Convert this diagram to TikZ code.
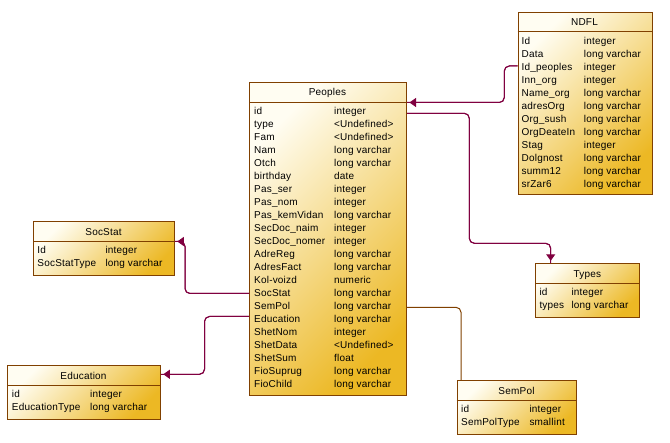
\documentclass[tikz,border=0pt]{standalone}
\usepackage{fontspec}
\setmainfont{Liberation Sans}
\usetikzlibrary{arrows.meta}
\definecolor{erborder}{RGB}{128,64,0}
\definecolor{erlink}{RGB}{128,0,64}
\definecolor{ergold}{RGB}{236,184,36}
\definecolor{ercream}{RGB}{255,253,242}
\newcommand\erRows[5]{%
  \foreach \n/\t [count=\i from 0] in {#4} {%
    \node[cell] (#5n\i) at (#1,#3+13*\i) {\n};
    \node[cell] (#5t\i) at (#2,#3+13*\i) {\t};
  }}
\tikzset{
  tbl/.style={draw=erborder, line width=1pt, anchor=north west, inner sep=0,
    shading=axis, top color=ercream, bottom color=ergold, shading angle=45},
  sep/.style={draw=erborder, line width=1pt},
  cell/.style={anchor=base west, inner sep=0, font=\fontsize{10}{12}\selectfont\addfontfeatures{LetterSpace=2}},
  hdr/.style={anchor=base, inner sep=0, font=\fontsize{10}{12}\selectfont\addfontfeatures{LetterSpace=2}},
  conn/.style={draw=erlink, line width=1pt, rounded corners=5pt},
  plainconn/.style={draw=erborder, line width=1pt, rounded corners=5pt},
  reftip/.style={postaction={draw=erlink, line width=1pt, rounded corners=5pt,
    -{Triangle[length=6.5pt,width=9pt]}, shorten >=2.5pt}},
}
\begin{document}
\begin{tikzpicture}[x=1pt,y=-1pt]
\useasboundingbox (0,0) rectangle (670,443);

% Peoples
\node[tbl, minimum width=157, minimum height=313] (peoples) at (249,82) {};
\draw[sep] (peoples.west |- 0,102.5) -- (peoples.east |- 0,102.5);
\node[hdr] (peoplesH) at (327.5,95.6) {Peoples};
\erRows{254}{334}{114.1}{id/integer, type/<Undefined>, Fam/<Undefined>, Nam/long varchar, Otch/long varchar, birthday/date, Pas\_ser/integer, Pas\_nom/integer, Pas\_kemVidan/long varchar, SecDoc\_naim/integer, SecDoc\_nomer/integer, AdreReg/long varchar, AdresFact/long varchar, Kol-voizd/numeric, SocStat/long varchar, SemPol/long varchar, Education/long varchar, ShetNom/integer, ShetData/<Undefined>, ShetSum/float, FioSuprug/long varchar, FioChild/long varchar}{p}

% NDFL
\node[tbl, minimum width=134, minimum height=182] (ndfl) at (517.5,12) {};
\draw[sep] (ndfl.west |- 0,31.8) -- (ndfl.east |- 0,31.8);
\node[hdr] (ndflH) at (584.5,25.8) {NDFL};
\erRows{521.5}{583.7}{44.2}{Id/integer, Data/long varchar, Id\_peoples/integer, Inn\_org/integer, Name\_org/long varchar, adresOrg/long varchar, Org\_sush/long varchar, OrgDeateIn/long varchar, Stag/integer, Dolgnost/long varchar, summ12/long varchar, srZar6/long varchar}{d}

% SocStat
\node[tbl, minimum width=140.5, minimum height=54.5] (socstat) at (33.3,221) {};
\draw[sep] (socstat.west |- 0,241.3) -- (socstat.east |- 0,241.3);
\node[hdr] (socstatH) at (103.5,235.3) {SocStat};
\erRows{37.3}{105.3}{253.3}{Id/integer, SocStatType/long varchar}{s}

% Education
\node[tbl, minimum width=152.5, minimum height=53.7] (education) at (7.3,365.3) {};
\draw[sep] (education.west |- 0,385.7) -- (education.east |- 0,385.7);
\node[hdr] (educationH) at (83.5,379.6) {Education};
\erRows{11.7}{90}{397.6}{id/integer, EducationType/long varchar}{e}

% Types
\node[tbl, minimum width=104, minimum height=54] (types) at (535.3,263.3) {};
\draw[sep] (types.west |- 0,283.3) -- (types.east |- 0,283.3);
\node[hdr] (typesH) at (587.3,277.6) {Types};
\erRows{539.3}{571.3}{295.3}{id/integer, types/long varchar}{t}

% SemPol
\node[tbl, minimum width=119.6, minimum height=54] (sempol) at (456.7,380.3) {};
\draw[sep] (sempol.west |- 0,400.3) -- (sempol.east |- 0,400.3);
\node[hdr] (sempolH) at (516.5,394.3) {SemPol};
\erRows{461}{529.3}{412.3}{id/integer, SemPolType/smallint}{m}

% connectors
\coordinate (c1) at (504.3,66);
\draw[conn, reftip] (ndfl.west |- c1) -- (c1) -- (504.3,102.5) -- (peoples.east |- 0,102.5);

\coordinate (c2) at (469.3,113.3);
\draw[conn, reftip] (peoples.east |- c2) -- (c2) -- (469.3,243.3) -- (550.7,243.3) -- (types.north -| 550.7,0);

\coordinate (c3) at (185,293.5);
\draw[conn, reftip] (peoples.west |- c3) -- (c3) -- (185,241.5) -- (socstat.east |- 0,241.5);

\coordinate (c4) at (204.5,316.5);
\draw[conn, reftip] (peoples.west |- c4) -- (c4) -- (204.5,374.3) -- (education.east |- 0,374.3);

\coordinate (c5) at (461,307.3);
\draw[plainconn] (peoples.east |- c5) -- (c5) -- (sempol.north -| c5);
\end{tikzpicture}
\end{document}
